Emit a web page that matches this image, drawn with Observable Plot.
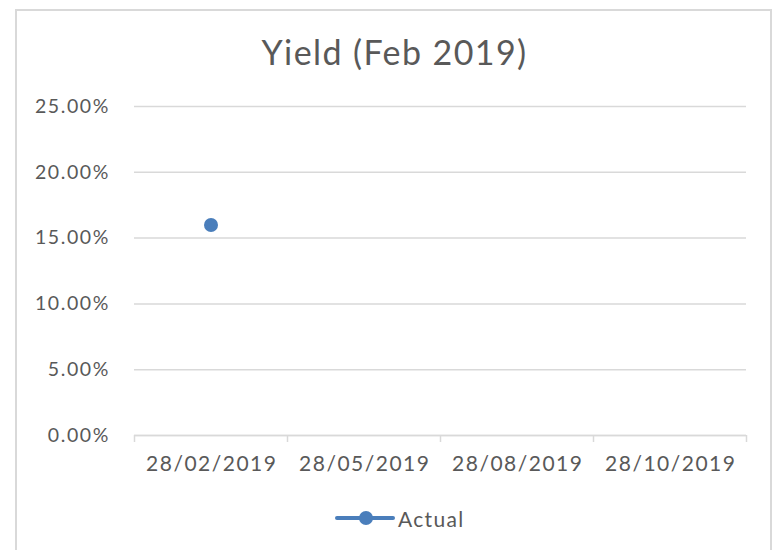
<!DOCTYPE html>
<html>
<head>
<meta charset="utf-8">
<script src="https://cdn.jsdelivr.net/npm/d3@7"></script>
<script src="https://cdn.jsdelivr.net/npm/@observablehq/plot@0.6"></script>
<style>
  html, body { margin: 0; padding: 0; background: #fff; }
  #wrap { position: relative; width: 775px; height: 550px; overflow: hidden; font-family: Lato, "Open Sans", sans-serif; }
  #frame { position: absolute; left: 15px; top: 9px; width: 757px; height: 600px; border: 2px solid #d9d9d9; box-sizing: border-box; }
  #title { position: absolute; left: 15px; width: 759px; top: 32px; height: 40px; line-height: 40px; text-align: center; font-size: 34px; letter-spacing: 1.4px; color: #595959; }
  #chart { position: absolute; left: 0; top: 0; }
  #legend { position: absolute; left: 335px; top: 506px; height: 24px; display: flex; align-items: center; color: #595959; font-size: 21px; letter-spacing: 1.3px; }
  #legend .sw { position: relative; width: 60px; height: 24px; }
  #legend .ln { position: absolute; left: 0; top: 10px; width: 60px; height: 4px; background: #4a7ebb; border-radius: 2px; }
  #legend .dt { position: absolute; left: 24px; top: 5px; width: 14px; height: 14px; background: #4a7ebb; border-radius: 50%; }
  #legend .lb { margin-left: 3px; }
  #chart svg g[aria-label="y-axis tick label"] text { letter-spacing: 1.6px; }
  #chart svg g[aria-label="x-axis tick label"] text { letter-spacing: 1.5px; }
</style>
</head>
<body>
<div id="wrap">
  <div id="frame"></div>
  <div id="chart"></div>
  <div id="title"></div>
  <div id="legend"><div class="sw"><div class="ln"></div><div class="dt"></div></div><span class="lb"></span></div>
</div>
<script>
const titleText = "Yield (Feb 2019)";
const seriesName = "Actual";
const categories = ["28/02/2019", "28/05/2019", "28/08/2019", "28/10/2019"];
const actual = [0.16, null, null, null];
const yTicks = [0, 0.05, 0.10, 0.15, 0.20, 0.25];

document.getElementById("title").textContent = titleText;
document.querySelector("#legend .lb").textContent = seriesName;

const points = categories.map((c, i) => ({i, category: c, value: actual[i]})).filter(d => d.value != null);
const boundaries = d3.range(categories.length + 1);
const centers = categories.map((c, i) => i + 0.5);

const chart = Plot.plot({
  width: 775,
  height: 550,
  marginLeft: 134,
  marginRight: 29,
  marginTop: 106,
  marginBottom: 115,
  style: {fontFamily: "Lato, 'Open Sans', sans-serif", background: "transparent", color: "#595959"},
  x: {type: "linear", domain: [0, categories.length]},
  y: {domain: [0, 0.25]},
  marks: [
    Plot.gridY(yTicks, {stroke: "#d9d9d9", strokeOpacity: 1, strokeWidth: 1.5}),
    Plot.axisY(yTicks, {tickSize: 0, tickPadding: 24.5, tickFormat: d => (d * 100).toFixed(2) + "%", fontSize: 19.5, fill: "#595959", label: null}),
    Plot.ruleY([0], {stroke: "#d9d9d9", strokeWidth: 1.5}),
    Plot.axisX(boundaries, {tickSize: 7, tickFormat: () => "", stroke: "#d9d9d9", strokeWidth: 1.5, label: null}),
    Plot.axisX(centers, {tickSize: 0, tickPadding: 21, dx: 0.75, tickFormat: d => categories[Math.floor(d)], fontSize: 21, fill: "#595959", label: null}),
    Plot.dot(points, {x: d => d.i + 0.5, y: "value", r: 7, fill: "#4a7ebb", stroke: "none"})
  ]
});
document.getElementById("chart").appendChild(chart);
</script>
</body>
</html>
